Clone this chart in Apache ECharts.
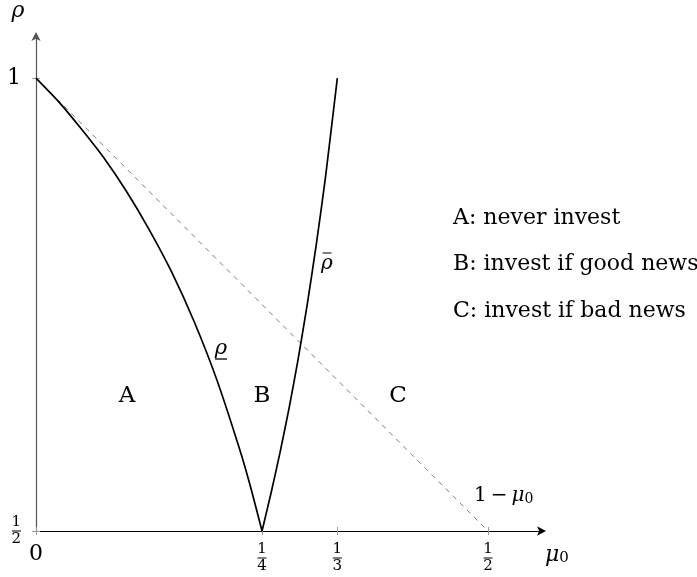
<!DOCTYPE html>
<html>
<head>
<meta charset="utf-8">
<script src="https://cdn.jsdelivr.net/npm/echarts@6/dist/echarts.min.js"></script>
<style>
  html, body { margin: 0; padding: 0; background: #fff; }
  #chart { width: 697px; height: 577px; }
</style>
</head>
<body>
<div id="chart"></div>
<script>
// Investment regions in the (μ0, ρ) plane.

// lower threshold ρ (from (0,1) down to (1/4, 1/2))
const muLow  = [0, 0.025, 0.05, 0.075, 0.1, 0.125, 0.15, 0.175, 0.2, 0.225, 0.2375, 0.25];
const rhoLow = [1, 0.974, 0.944, 0.912, 0.875, 0.833, 0.786, 0.731, 0.667, 0.591, 0.548, 0.5];

// upper threshold ρ̄ (from (1/4, 1/2) up to (1/3, 1))
const muHigh  = [0.25, 0.26, 0.27, 0.28, 0.29, 0.30, 0.31, 0.32, 0.3333];
const rhoHigh = [0.5, 0.542, 0.587, 0.636, 0.690, 0.75, 0.816, 0.889, 1];

// reference line 1 − μ0
const muDiag  = [0, 0.5];
const rhoDiag = [1, 0.5];

// ticks
const xTickValues = [0, 0.25, 1 / 3, 0.5];
const xTickLabels = ['0', '1/4', '1/3', '1/2'];
const yTickValues = [0.5, 1];
const yTickLabels = ['1/2', '1'];

// annotations
const regionLetters = ['A', 'B', 'C'];
const regionNotes = ['A: never invest', 'B: invest if good news', 'C: invest if bad news'];

const FONT = '"DejaVu Serif", "Liberation Serif", serif';
const X_MAX = 0.5608;
const Y_MIN = 0.5;
const Y_MAX = 1.0475;

const pairs = (xs, ys) => xs.map((x, i) => [x, ys[i]]);

// "1/4" -> stacked fraction in rich text
function tickText(label) {
  if (label.indexOf('/') >= 0) {
    const [num, den] = label.split('/');
    return '{n|' + num + '}\n{bar| }\n{n|' + den + '}';
  }
  return '{big|' + label + '}';
}
function labelFor(values, labels, v) {
  let best = 0;
  values.forEach((t, i) => { if (Math.abs(t - v) < Math.abs(values[best] - v)) best = i; });
  return tickText(labels[best]);
}

const tickRich = {
  n:   { fontFamily: FONT, fontSize: 15, lineHeight: 13, color: '#000' },
  bar: { width: 9, height: 1, lineHeight: 4, fontSize: 1, backgroundColor: '#000' },
  big: { fontFamily: FONT, fontSize: 22, lineHeight: 22, color: '#000' }
};

const tickGray = '#9a9a9a';

const chart = echarts.init(document.getElementById('chart'), null, { renderer: 'canvas' });

const option = {
  animation: false,
  backgroundColor: '#fff',
  grid: {
    left: 36, top: 35, right: 697 - 36 - Math.round(X_MAX * 904), bottom: 46,
    containLabel: false, outerBoundsMode: 'none'
  },
  xAxis: [
    {
      type: 'value', min: 0, max: X_MAX, position: 'bottom',
      axisLine: {
        show: true, symbol: ['none', 'arrow'], symbolSize: [7, 9], symbolOffset: [0, 3],
        lineStyle: { color: '#000', width: 1.2 }
      },
      axisTick: { show: true, customValues: [0, 0.25, 1 / 3, 0.5], length: 4, lineStyle: { color: tickGray } },
      axisLabel: {
        show: true, customValues: xTickValues, margin: 12,
        formatter: v => labelFor(xTickValues, xTickLabels, v), rich: tickRich
      },
      splitLine: { show: false }
    },
    {
      type: 'value', min: 0, max: X_MAX, position: 'bottom',
      axisLine: { show: false },
      axisTick: { show: true, inside: true, customValues: [0, 0.25, 1 / 3, 0.5], length: 4, lineStyle: { color: tickGray } },
      axisLabel: { show: false },
      splitLine: { show: false }
    }
  ],
  yAxis: [
    {
      type: 'value', min: Y_MIN, max: Y_MAX, position: 'left',
      axisLine: {
        show: true, symbol: ['none', 'arrow'], symbolSize: [7, 9], symbolOffset: [0, 3],
        lineStyle: { color: '#555', width: 1.2 }
      },
      axisTick: { show: true, customValues: yTickValues, length: 4, lineStyle: { color: tickGray } },
      axisLabel: {
        show: true, customValues: yTickValues, margin: 15,
        formatter: v => labelFor(yTickValues, yTickLabels, v), rich: tickRich
      },
      splitLine: { show: false }
    },
    {
      type: 'value', min: Y_MIN, max: Y_MAX, position: 'left',
      axisLine: { show: false },
      axisTick: { show: true, inside: true, customValues: yTickValues, length: 4, lineStyle: { color: tickGray } },
      axisLabel: { show: false },
      splitLine: { show: false }
    }
  ],
  series: [
    {
      name: '1 − μ0', type: 'line', xAxisIndex: 0, yAxisIndex: 0,
      data: pairs(muDiag, rhoDiag), showSymbol: false, silent: true,
      lineStyle: { color: '#7a7a7a', width: 1, type: [5, 5] }
    },
    {
      name: 'rho_low', type: 'line', xAxisIndex: 0, yAxisIndex: 0,
      data: pairs(muLow, rhoLow), showSymbol: false, silent: true, smooth: 0.2,
      lineStyle: { color: '#000', width: 1.7 }
    },
    {
      name: 'rho_high', type: 'line', xAxisIndex: 0, yAxisIndex: 0,
      data: pairs(muHigh, rhoHigh), showSymbol: false, silent: true, smooth: 0.2,
      lineStyle: { color: '#000', width: 1.7 }
    }
  ],
  graphic: [
    // axis names
    { type: 'text', x: 18, y: 11, style: { text: 'ρ', fontFamily: FONT, fontStyle: 'italic', fontSize: 22, fill: '#000', align: 'center', verticalAlign: 'middle', textAlign: 'center', textVerticalAlign: 'middle' } },
    { type: 'text', x: 545, y: 555, style: {
      text: '{m|μ}{s|0}', align: 'left', verticalAlign: 'middle', textAlign: 'left', textVerticalAlign: 'middle',
      rich: {
        m: { fontFamily: FONT, fontStyle: 'italic', fontSize: 22, lineHeight: 22, fill: '#000', color: '#000' },
        s: { fontFamily: FONT, fontSize: 15, lineHeight: 11, verticalAlign: 'bottom', fill: '#000', color: '#000' }
      } } },
    // curve labels
    { type: 'text', x: 221, y: 361, style: {
      text: '{r|ρ}\n{u| }', align: 'center', verticalAlign: 'bottom', textAlign: 'center', textVerticalAlign: 'bottom',
      rich: {
        r: { fontFamily: FONT, fontStyle: 'italic', fontSize: 21, lineHeight: 17, color: '#000', align: 'center' },
        u: { width: 12, height: 1.3, lineHeight: 4, fontSize: 1, backgroundColor: '#000', align: 'center' }
      } } },
    { type: 'text', x: 327, y: 251, style: {
      text: '{o| }\n{r|ρ}', align: 'center', verticalAlign: 'top', textAlign: 'center', textVerticalAlign: 'top',
      rich: {
        o: { width: 9, height: 1, lineHeight: 4, fontSize: 1, backgroundColor: '#000', align: 'center' },
        r: { fontFamily: FONT, fontStyle: 'italic', fontSize: 20, lineHeight: 17, color: '#000', align: 'center' }
      } } },
    { type: 'text', x: 474, y: 496, style: {
      text: '{t|1\u2009−\u2009}{m|μ}{s|0}', align: 'left', verticalAlign: 'middle', textAlign: 'left', textVerticalAlign: 'middle',
      rich: {
        t: { fontFamily: FONT, fontSize: 20, lineHeight: 20, color: '#000' },
        m: { fontFamily: FONT, fontStyle: 'italic', fontSize: 20, lineHeight: 20, color: '#000' },
        s: { fontFamily: FONT, fontSize: 14, lineHeight: 10, verticalAlign: 'bottom', color: '#000' }
      } } },
    // region letters
    { type: 'text', x: 127, y: 396, style: { text: regionLetters[0], fontFamily: FONT, fontSize: 23, fill: '#000', align: 'center', verticalAlign: 'middle', textAlign: 'center', textVerticalAlign: 'middle' } },
    { type: 'text', x: 262, y: 396, style: { text: regionLetters[1], fontFamily: FONT, fontSize: 23, fill: '#000', align: 'center', verticalAlign: 'middle', textAlign: 'center', textVerticalAlign: 'middle' } },
    { type: 'text', x: 398, y: 396, style: { text: regionLetters[2], fontFamily: FONT, fontSize: 23, fill: '#000', align: 'center', verticalAlign: 'middle', textAlign: 'center', textVerticalAlign: 'middle' } },
    // region notes
    { type: 'text', x: 453, y: 218, style: { text: regionNotes[0], fontFamily: FONT, fontSize: 22, fill: '#000', align: 'left', verticalAlign: 'middle', textAlign: 'left', textVerticalAlign: 'middle' } },
    { type: 'text', x: 453, y: 264, style: { text: regionNotes[1], fontFamily: FONT, fontSize: 22, fill: '#000', align: 'left', verticalAlign: 'middle', textAlign: 'left', textVerticalAlign: 'middle' } },
    { type: 'text', x: 453, y: 311, style: { text: regionNotes[2], fontFamily: FONT, fontSize: 22, fill: '#000', align: 'left', verticalAlign: 'middle', textAlign: 'left', textVerticalAlign: 'middle' } }
  ]
};

chart.setOption(option);
</script>
</body>
</html>
